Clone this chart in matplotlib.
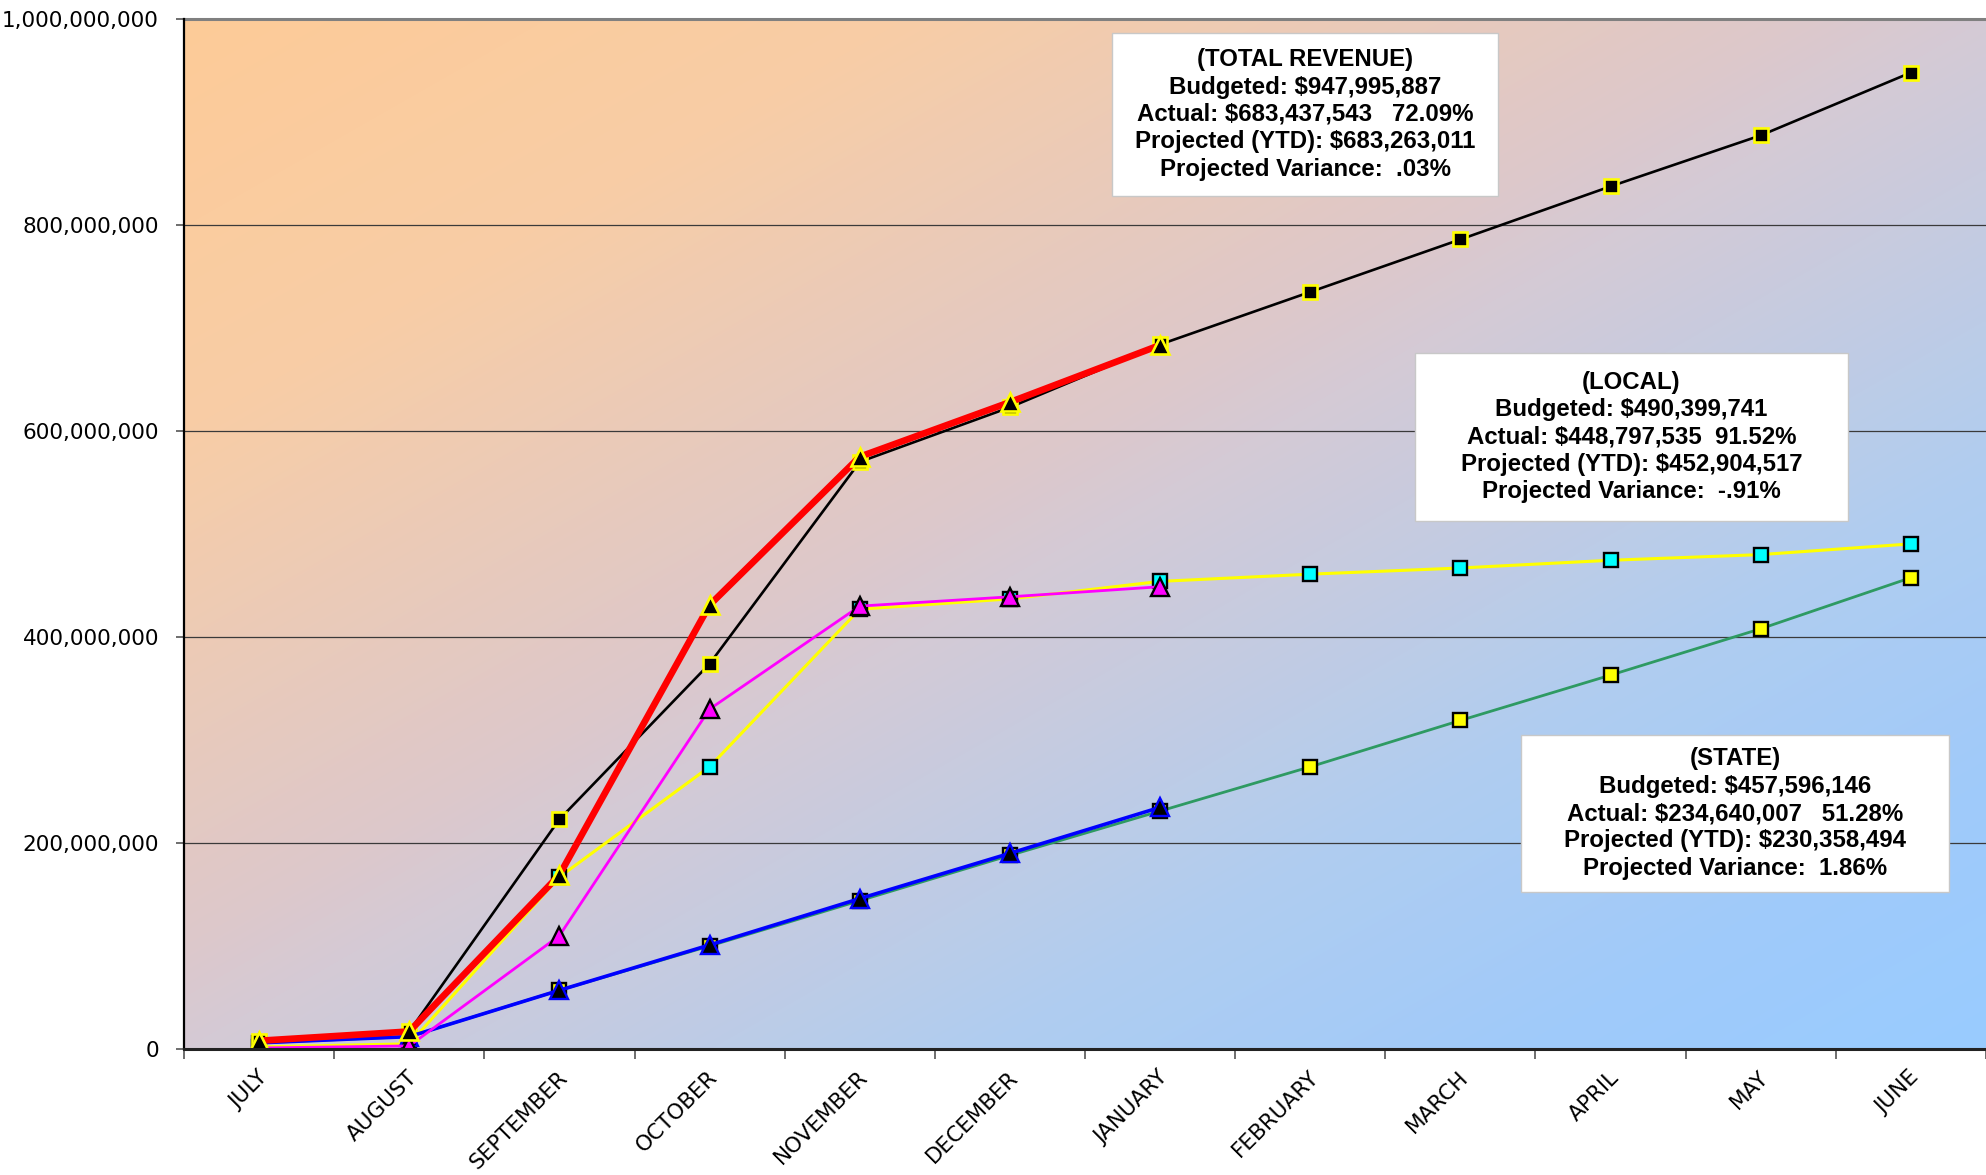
import numpy as np
import matplotlib
matplotlib.use("Agg")
import matplotlib.pyplot as plt
import matplotlib.transforms as mtransforms
from matplotlib.patches import Rectangle
from matplotlib.ticker import FuncFormatter, FixedLocator

# ---------------- data (values in millions of dollars) ----------------
months = ['JULY', 'AUGUST', 'SEPTEMBER', 'OCTOBER', 'NOVEMBER', 'DECEMBER',
          'JANUARY', 'FEBRUARY', 'MARCH', 'APRIL', 'MAY', 'JUNE']
M = 1e6
total_budget = [8, 17, 223, 374, 570, 623, 684, 735, 786, 837.5, 887, 948.0]
total_actual = [8, 17, 169, 431, 575, 628, 683.4]
local_budget = [2, 5, 167, 274, 427, 437, 454, 461, 467, 474.5, 480, 490.4]
local_actual = [1, 3, 110, 330, 430, 439, 448.8]
state_budget = [6, 12, 57, 100, 144, 188, 231, 274, 319, 363, 408, 457.6]
state_actual = [6, 12, 57, 101, 146, 190, 234.6]

box_total = "(TOTAL REVENUE)\nBudgeted: $947,995,887\nActual: $683,437,543   72.09%\nProjected (YTD): $683,263,011\nProjected Variance:  .03%"
box_local = "(LOCAL)\nBudgeted: $490,399,741\nActual: $448,797,535  91.52%\nProjected (YTD): $452,904,517\nProjected Variance:  -.91%"
box_state = "(STATE)\nBudgeted: $457,596,146\nActual: $234,640,007   51.28%\nProjected (YTD): $230,358,494\nProjected Variance:  1.86%"

# ---------------- figure ----------------
W, H = 1986, 1175
fig = plt.figure(figsize=(W / 100, H / 100), dpi=100)
fig.patch.set_facecolor('white')
ax_l, ax_r, ax_t, ax_b = 184, 1986, 19, 1049
ax = fig.add_axes([ax_l / W, 1 - ax_b / H, (ax_r - ax_l) / W, (ax_b - ax_t) / H])

x = np.arange(len(months))

# gradient background (top-left peach -> bottom-right light blue)
u = np.linspace(0, 1, 400)[None, :]
v = np.linspace(0, 1, 400)[:, None]
t = (u + v) / 2.0
stops = [0.0, 0.2, 0.45, 0.5, 0.72, 0.87, 1.0]
rs = [253, 248, 221, 213, 176, 160, 153]
gs = [203, 205, 200, 202, 205, 202, 204]
bs = [152, 166, 203, 213, 240, 250, 255]
img = np.dstack([np.interp(t, stops, rs), np.interp(t, stops, gs),
                 np.interp(t, stops, bs)]) / 255.0
ax.imshow(img, extent=[-0.5, 11.5, 0, 1e9], aspect='auto', origin='upper',
          zorder=0, interpolation='bilinear')

ax.set_xlim(-0.5, 11.5)
ax.set_ylim(0, 1e9)

# gridlines
for gy in [2e8, 4e8, 6e8, 8e8]:
    ax.axhline(gy, color='#3a3a3a', lw=0.9, zorder=0.5)
ax.axhline(1e9, color='#808080', lw=2.2, zorder=0.5, clip_on=False)

def arr(a):
    return np.array(a, dtype=float) * M

# budget series
ax.plot(x, arr(state_budget), color='#2E9A62', lw=2.0, marker='s', ms=10.5,
        mfc='#FFFF00', mec='black', mew=1.7, zorder=3)
ax.plot(x, arr(local_budget), color='#FFFF00', lw=2.2, marker='s', ms=10.5,
        mfc='#00FFFF', mec='black', mew=1.7, zorder=3)
ax.plot(x, arr(total_budget), color='black', lw=1.9, marker='s', ms=10.5,
        mfc='black', mec='#FFFF00', mew=1.9, zorder=3)

# actual series
xa = x[:len(total_actual)]
ax.plot(xa, arr(state_actual), color='#0000FF', lw=2.6, marker='^', ms=13,
        mfc='black', mec='#0000FF', mew=1.7, zorder=4)
ax.plot(xa, arr(local_actual), color='#FF00FF', lw=2.0, marker='^', ms=13,
        mfc='#FF00FF', mec='black', mew=1.7, zorder=4)
ax.plot(xa, arr(total_actual), color='#FF0000', lw=4.8, marker='^', ms=13,
        mfc='black', mec='#FFFF00', mew=1.9, zorder=4)

# axes styling
for s in ['top', 'right']:
    ax.spines[s].set_visible(False)
ax.spines['left'].set_color('black')
ax.spines['left'].set_linewidth(1.6)
ax.spines['bottom'].set_color('#222222')
ax.spines['bottom'].set_linewidth(2.2)
ax.spines['left'].set_zorder(5)
ax.spines['bottom'].set_zorder(5)

ax.yaxis.set_major_locator(FixedLocator([0, 2e8, 4e8, 6e8, 8e8, 1e9]))
ax.yaxis.set_major_formatter(FuncFormatter(lambda v, p: f"{int(round(v)):,}"))
ax.tick_params(axis='y', direction='out', length=6, width=1.2, color='#555555',
               pad=12, labelsize=15.5, labelcolor='black')

ax.set_xticks(x)
ax.set_xticklabels(months, rotation=45, ha='right', fontsize=15.5)
ax.set_xticks(np.arange(-0.5, 12, 1), minor=True)
ax.tick_params(axis='x', which='major', length=0, pad=13)
ax.tick_params(axis='x', which='minor', direction='out', length=7, width=1.2,
               color='#555555')
offset = mtransforms.ScaledTranslation(12 / 100, 0, fig.dpi_scale_trans)
for lab in ax.get_xticklabels():
    lab.set_family('DejaVu Sans')
    lab.set_transform(lab.get_transform() + offset)
for lab in ax.get_yticklabels():
    lab.set_family('DejaVu Sans')

# annotation boxes (pixel boxes from the reference)
def add_box(x0, y0, x1, y1, text):
    fig.patches.append(Rectangle((x0 / W, 1 - y1 / H), (x1 - x0) / W, (y1 - y0) / H,
                                 transform=fig.transFigure, facecolor='white',
                                 edgecolor='#C8C8C8', lw=1.0, zorder=5))
    fig.text((x0 + x1) / 2 / W, 1 - (y0 + y1) / 2 / H, text, ha='center', va='center',
             fontsize=17.3, fontweight='bold', family='Liberation Sans',
             linespacing=1.24, zorder=6)

add_box(1112, 33, 1498, 196, box_total)
add_box(1415, 353, 1848, 521, box_local)
add_box(1521, 735, 1949, 892, box_state)

fig.savefig('out.png', dpi=100, facecolor='white')
